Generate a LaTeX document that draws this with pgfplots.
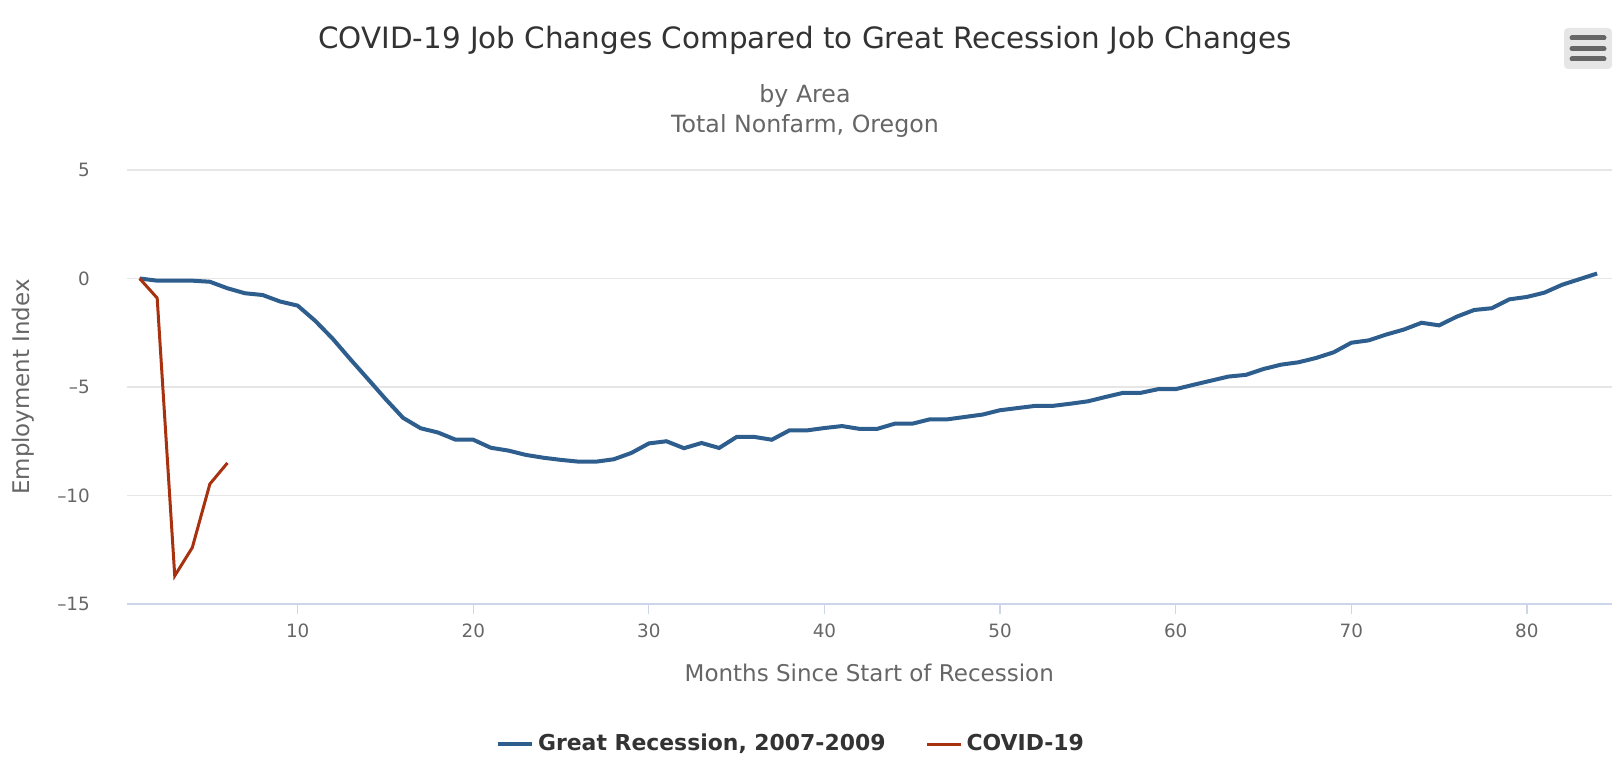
\documentclass[border=0pt]{standalone}
\usepackage{fontspec}
\setmainfont{DejaVu Sans}
\usepackage{pgfplots}
\pgfplotsset{compat=1.18}
\definecolor{grblue}{HTML}{2E5E8D}
\definecolor{covred}{HTML}{A8320F}
\definecolor{gridgray}{HTML}{E6E6E6}
\definecolor{axisblue}{HTML}{CCD6EB}
\definecolor{labgray}{HTML}{666666}
\definecolor{titgray}{HTML}{333333}
\begin{document}
\begin{tikzpicture}[x=1bp,y=1bp]
\useasboundingbox (0,0) rectangle (812,378.5);
\begin{axis}[
  at={(63.4bp,76.5bp)}, anchor=south west,
  scale only axis, width=742.45bp, height=217bp,
  xmin=0.27, xmax=84.83, ymin=-15, ymax=5,
  xtick={10,20,...,80}, ytick={-15,-10,-5,0,5},
  yticklabels={--15,--10,--5,0,5},
  ymajorgrids, grid style={draw=gridgray, line width=0.6bp},
  axis lines*=left,
  y axis line style={draw=none},
  x axis line style={draw=axisblue, line width=0.6bp, -},
  tick align=outside,
  xtick style={draw=axisblue, line width=0.6bp},
  major tick length=5bp,
  ytick style={draw=none},
  /pgf/number format/assume math mode=true,
  ticklabel style={font=\fontsize{9.2}{11}\selectfont, text=labgray},
  xticklabel style={anchor=north, yshift=-1.5bp},
  yticklabel style={anchor=east, xshift=-10bp},
  xlabel={Months Since Start of Recession},
  ylabel={Employment Index},
  label style={font=\fontsize{11.55}{13}\selectfont, text=labgray},
  x label style={at={(axis description cs:0.5,-0.159)}, anchor=center},
  y label style={at={(axis description cs:-0.0699,0.5)}, anchor=center, font=\fontsize{11.5}{13}\selectfont},
  legend columns=2,
  legend style={at={(axis description cs:0.448,-0.3226)}, anchor=center, draw=none,
    font=\fontsize{11}{13}\selectfont\bfseries, text=titgray,
    /tikz/every even column/.append style={column sep=18bp}},
  legend image code/.code={\draw[#1] (0bp,0bp) -- (17bp,0bp);},
]
\addplot[grblue, line width=2bp] coordinates {
(1,0) (2,-0.1) (3,-0.1) (4,-0.1) (5,-0.15) (6,-0.45) (7,-0.68) (8,-0.76) (9,-1.06) (10,-1.25)
(11,-1.95) (12,-2.78) (13,-3.72) (14,-4.63) (15,-5.55) (16,-6.42) (17,-6.9) (18,-7.1) (19,-7.43) (20,-7.43)
(21,-7.8) (22,-7.93) (23,-8.13) (24,-8.26) (25,-8.36) (26,-8.44) (27,-8.44) (28,-8.33) (29,-8.04) (30,-7.6)
(31,-7.5) (32,-7.82) (33,-7.58) (34,-7.81) (35,-7.3) (36,-7.3) (37,-7.43) (38,-7.0) (39,-7.0) (40,-6.89)
(41,-6.8) (42,-6.93) (43,-6.93) (44,-6.69) (45,-6.69) (46,-6.49) (47,-6.49) (48,-6.38) (49,-6.27) (50,-6.07)
(51,-5.97) (52,-5.87) (53,-5.87) (54,-5.77) (55,-5.66) (56,-5.46) (57,-5.27) (58,-5.27) (59,-5.1) (60,-5.1)
(61,-4.9) (62,-4.71) (63,-4.52) (64,-4.44) (65,-4.17) (66,-3.97) (67,-3.86) (68,-3.66) (69,-3.4) (70,-2.96)
(71,-2.85) (72,-2.58) (73,-2.35) (74,-2.04) (75,-2.16) (76,-1.76) (77,-1.45) (78,-1.37) (79,-0.96) (80,-0.85)
(81,-0.65) (82,-0.29) (83,-0.03) (84,0.23)
};
\addlegendentry{Great Recession, 2007-2009}
\addplot[covred, line width=1.5bp] coordinates {
(1,0) (2,-0.9) (3,-13.7) (4,-12.4) (5,-9.47) (6,-8.5)
};
\addlegendentry{COVID-19}
\end{axis}
\node[text=titgray, font=\fontsize{14.75}{18}\selectfont] at (402.5,358.5) {COVID-19 Job Changes Compared to Great Recession Job Changes};
\node[text=labgray, font=\fontsize{11.9}{13}\selectfont] at (402.5,330.5) {by Area};
\node[text=labgray, font=\fontsize{11.9}{13}\selectfont] at (402.5,315.5) {Total Nonfarm, Oregon};
\fill[gridgray, rounded corners=2bp] (782,344) rectangle (806,364.5);
\draw[labgray, line width=2.5bp, line cap=round] (786,359.5) -- (802,359.5);
\draw[labgray, line width=2.5bp, line cap=round] (786,354.2) -- (802,354.2);
\draw[labgray, line width=2.5bp, line cap=round] (786,349) -- (802,349);
\end{tikzpicture}
\end{document}
